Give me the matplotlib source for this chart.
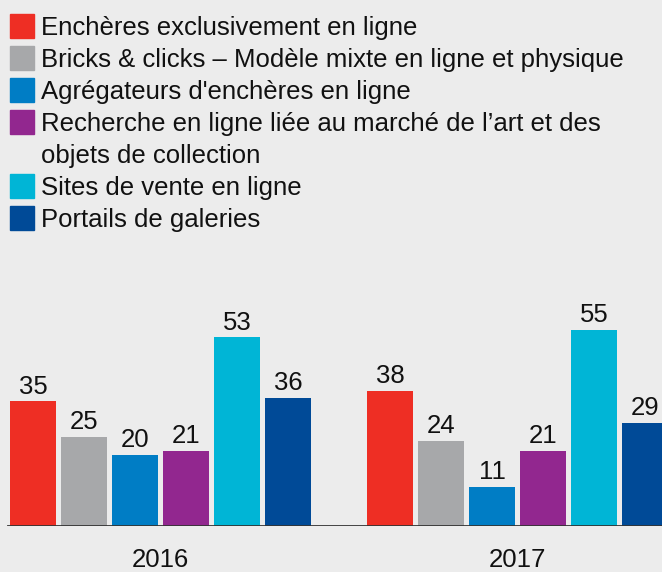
import matplotlib.pyplot as plt
from matplotlib.patches import Rectangle
import numpy as np

plt.rcParams['font.family'] = ['Liberation Sans', 'DejaVu Sans']

years = ['2016', '2017']
categories = [
    "Enchères exclusivement en ligne",
    "Bricks & clicks – Modèle mixte en ligne et physique",
    "Agrégateurs d'enchères en ligne",
    "Recherche en ligne liée au marché de l’art et des\nobjets de collection",
    "Sites de vente en ligne",
    "Portails de galeries",
]
values_2016 = [35, 25, 20, 21, 53, 36]
values_2017 = [38, 24, 11, 21, 55, 29]
colors = ['#EE2E24', '#A7A8AA', '#007DC5', '#92278F', '#00B5D6', '#004A97']

bg = '#ECECEC'
fs = 18.5
txt = '#111111'

fig = plt.figure(figsize=(6.62, 5.72), dpi=100, facecolor=bg)
W, H = 662, 572

# axes: baseline at y=526px, top at y=300px
ax = fig.add_axes([0, (H - 526) / H, 1, 226 / H])
ax.set_facecolor(bg)

n = len(categories)
group_gap = 7
for i in range(n):
    xs = np.array([0, group_gap]) + i
    vals = [values_2016[i], values_2017[i]]
    bars = ax.bar(xs, vals, width=0.9, color=colors[i], zorder=2)
    ax.bar_label(bars, labels=[str(v) for v in vals], padding=2, fontsize=fs, color=txt)

left = -0.45 - 10 / 51
ax.set_xlim(left, left + W / 51)
ax.set_ylim(0, 226 / 3.56)
ax.axhline(0, xmin=8 / W, color='#333333', lw=2, zorder=3)

ax.set_xticks([(n - 1) / 2, group_gap + (n - 1) / 2])
ax.set_xticklabels(years, fontsize=fs, color=txt)
ax.tick_params(axis='x', length=0, pad=16)
ax.set_yticks([])
for s in ax.spines.values():
    s.set_visible(False)

# legend drawn by hand: square next to first line, 32px per text line
y = 26
for c, lab in zip(colors, categories):
    fig.add_artist(Rectangle((10 / W, 1 - (y + 12) / H), 24 / W, 24 / H,
                             transform=fig.transFigure, color=c))
    for line in lab.split('\n'):
        fig.text(41 / W, 1 - (y + 9) / H, line, fontsize=fs, color=txt,
                 va='baseline', ha='left')
        y += 32

fig.savefig('out.png', dpi=100, facecolor=bg)
